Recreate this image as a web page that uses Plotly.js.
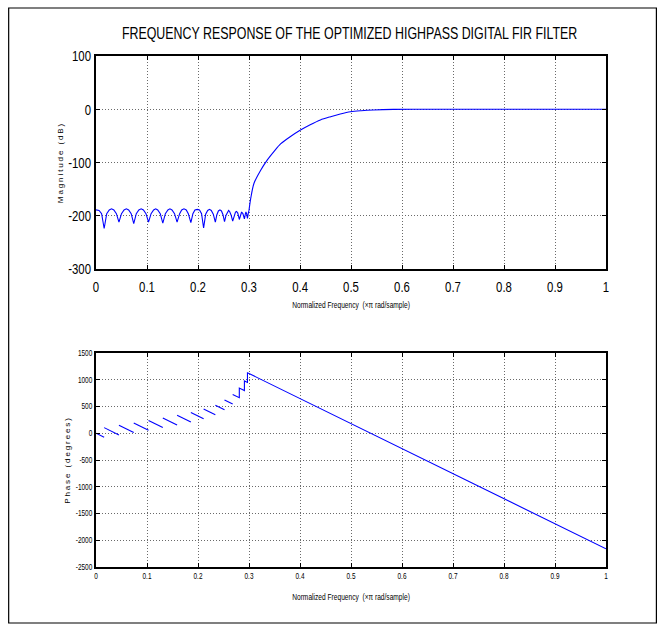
<!DOCTYPE html>
<html>
<head>
<meta charset="utf-8">
<script src="https://cdn.plot.ly/plotly-3.0.1.min.js"></script>
<style>
  html, body { margin: 0; padding: 0; background: #fff; }
  .ytitle, .y2title { letter-spacing: 1.9px; }
  /* the reference uses a condensed face; squeeze the regular face horizontally */
  text.gtitle { transform-box: fill-box; transform-origin: center; transform: scaleX(0.73); }
  text.xtitle, text.x2title { transform-box: fill-box; transform-origin: center; transform: scaleX(0.78); }
  g.xtick, g.x2tick { transform-box: fill-box; transform-origin: center; transform: scaleX(0.76); }
  g.ytick, g.y2tick { transform-box: fill-box; transform-origin: right center; transform: scaleX(0.76); }
</style>
</head>
<body>
<div id="chart" style="width:665px;height:631px;"></div>
<script>
// ---- data ----
const chartTitle = "FREQUENCY RESPONSE OF THE OPTIMIZED HIGHPASS DIGITAL FIR FILTER";
const xTitle = "Normalized Frequency  (\u00d7\u03c0 rad/sample)";
const magTitle = "Magnitude (dB)";
const phaseTitle = "Phase (degrees)";

const freqTicks = [0, 0.1, 0.2, 0.3, 0.4, 0.5, 0.6, 0.7, 0.8, 0.9, 1];
const freqTickText = ["0", "0.1", "0.2", "0.3", "0.4", "0.5", "0.6", "0.7", "0.8", "0.9", "1"];
const magTicks = [-300, -200, -100, 0, 100];
const magTickText = ["-300", "-200", "-100", "0", "100"];
const phaseTicks = [-2500, -2000, -1500, -1000, -500, 0, 500, 1000, 1500];
const phaseTickText = ["-2500", "-2000", "-1500", "-1000", "-500", "0", "500", "1000", "1500"];

// Magnitude response (dB): stopband ripple
const stopFreq = [
  0.000, 0.006, 0.011, 0.016, 0.021, 0.026, 0.0305, 0.035, 0.040, 0.045,
  0.050, 0.055, 0.0595, 0.064, 0.069, 0.074, 0.079, 0.084, 0.0885, 0.093,
  0.098, 0.103, 0.108, 0.113, 0.117, 0.121, 0.126, 0.131, 0.136, 0.141,
  0.145, 0.149, 0.154, 0.159, 0.164, 0.168, 0.1725, 0.177, 0.181, 0.186,
  0.190, 0.194, 0.1985, 0.203, 0.207, 0.211, 0.215, 0.219, 0.2225, 0.226,
  0.230, 0.234, 0.237, 0.240, 0.243, 0.246, 0.249, 0.252, 0.255, 0.258,
  0.260, 0.262, 0.265, 0.268, 0.271, 0.2735, 0.2755, 0.278, 0.281, 0.2835,
  0.2855, 0.288, 0.291, 0.293, 0.294, 0.2955, 0.297, 0.2985, 0.300
];
const stopDb = [
  -189, -190, -196, -224, -196, -189, -187, -189, -196, -212,
  -196, -189, -187, -189, -196, -215, -196, -189, -187, -189,
  -196, -212, -196, -189, -187, -189, -196, -214, -196, -189,
  -187, -189, -196, -212, -196, -189, -187, -189, -196, -213,
  -196, -189, -188, -189, -196, -223, -197, -190, -188, -190,
  -197, -212, -198, -191, -189, -191, -198, -211, -199, -192,
  -190, -192, -199, -210, -199, -193, -192, -195, -207, -198,
  -193, -196, -206, -196, -193, -197, -205, -196, -190
];
// Magnitude response (dB): transition band and passband
const passFreq = [0.300, 0.3033, 0.3098, 0.3232, 0.336, 0.350, 0.3619, 0.380, 0.401, 0.420,
                  0.440, 0.460, 0.479, 0.499, 0.520, 0.544, 0.583, 0.650, 0.800, 1.000];
const passDb = [-190, -168, -139, -114, -95, -78, -65, -52, -39, -29,
                -20, -14, -9, -4.8, -2.8, -1.4, -0.3, 0, 0, 0];

// Phase response (degrees); null = gap between wrapped segments
const phaseFreq = [
  0.000, 0.016, null,
  0.016, 0.045, null,
  0.045, 0.074, null,
  0.074, 0.103, null,
  0.103, 0.131, null,
  0.131, 0.159, null,
  0.159, 0.186, null,
  0.186, 0.211, null,
  0.211, 0.234, null,
  0.234, 0.252, null,
  0.252, 0.268, null,
  0.268, 0.281, 0.281, 0.291, 0.291, 0.297, 0.297, 0.300, 1.000
];
const phaseDeg = [
  0, -75, null,
  105, -31, null,
  149, 13, null,
  193, 57, null,
  237, 106, null,
  286, 155, null,
  335, 209, null,
  389, 272, null,
  452, 345, null,
  525, 441, null,
  621, 546, null,
  726, 665, 845, 798, 978, 950, 1130, 1116, -2160
];

// ---- layout helpers (pixel geometry of the figure) ----
const W = 665, H = 631;
const mL = 95.5, mR = 58.5, mT = 56, mB = 64;
const plotW = W - mL - mR, plotH = H - mT - mB;
const px = x => (x - mL) / plotW;
const py = y => (H - mB - y) / plotH;

const face = "Liberation Sans, Arial, Helvetica, sans-serif";

function axisBase(extra) {
  return Object.assign({
    showline: true, linecolor: "#000", linewidth: 2, mirror: "ticks",
    ticks: "inside", ticklen: 4, tickcolor: "#000", tickwidth: 1,
    showgrid: true, gridcolor: "#6a6a6a", griddash: "1px,2px", gridwidth: 1,
    zeroline: false, automargin: false, fixedrange: true
  }, extra);
}

const blue = { color: "#0000ff", width: 1.1 };
const traces = [
  { x: stopFreq, y: stopDb, type: "scatter", mode: "lines",
    line: blue, xaxis: "x", yaxis: "y", hoverinfo: "skip" },
  { x: passFreq, y: passDb, type: "scatter", mode: "lines",
    line: Object.assign({ shape: "spline", smoothing: 0.8 }, blue), xaxis: "x", yaxis: "y", hoverinfo: "skip" },
  { x: phaseFreq, y: phaseDeg, type: "scatter", mode: "lines", connectgaps: false,
    line: blue, xaxis: "x2", yaxis: "y2", hoverinfo: "skip" }
];

const layout = {
  width: W, height: H,
  margin: { l: mL, r: mR, t: mT, b: mB, pad: 0 },
  paper_bgcolor: "#fff", plot_bgcolor: "#fff",
  showlegend: false,
  title: { text: chartTitle, xref: "container", yref: "container",
           x: 349.5 / W, y: 1 - 33 / H, xanchor: "center", yanchor: "middle",
           font: { family: face, size: 17, color: "#000" } },
  xaxis: axisBase({ domain: [0, 1], anchor: "y", range: [0, 1],
    tickvals: freqTicks, ticktext: freqTickText, ticklabelstandoff: 3,
    tickfont: { family: face, size: 15, color: "#000" },
    title: { text: xTitle, standoff: 8, font: { family: face, size: 8.5, color: "#000" } } }),
  yaxis: axisBase({ domain: [py(269), 1], anchor: "x", range: [-300, 100],
    tickvals: magTicks, ticktext: magTickText,
    tickfont: { family: face, size: 15, color: "#000" },
    title: { text: magTitle, standoff: 3, font: { family: face, size: 8, color: "#000" } } }),
  xaxis2: axisBase({ domain: [0, 1], anchor: "y2", range: [0, 1],
    tickvals: freqTicks, ticktext: freqTickText,
    tickfont: { family: face, size: 8.5, color: "#000" },
    title: { text: xTitle, standoff: 14, font: { family: face, size: 8.5, color: "#000" } } }),
  yaxis2: axisBase({ domain: [0, py(353)], anchor: "x2", range: [-2500, 1500],
    tickvals: phaseTicks, ticktext: phaseTickText,
    tickfont: { family: face, size: 8.5, color: "#000" },
    title: { text: phaseTitle, standoff: 4, font: { family: face, size: 8, color: "#000" } } }),
  shapes: [
    { type: "rect", xref: "paper", yref: "paper",
      x0: px(8), x1: px(657), y0: py(623), y1: py(8),
      line: { color: "#000", width: 1.2 }, fillcolor: "rgba(0,0,0,0)", layer: "below" }
  ]
};

Plotly.newPlot("chart", traces, layout, { staticPlot: true, displayModeBar: false });
</script>
</body>
</html>
